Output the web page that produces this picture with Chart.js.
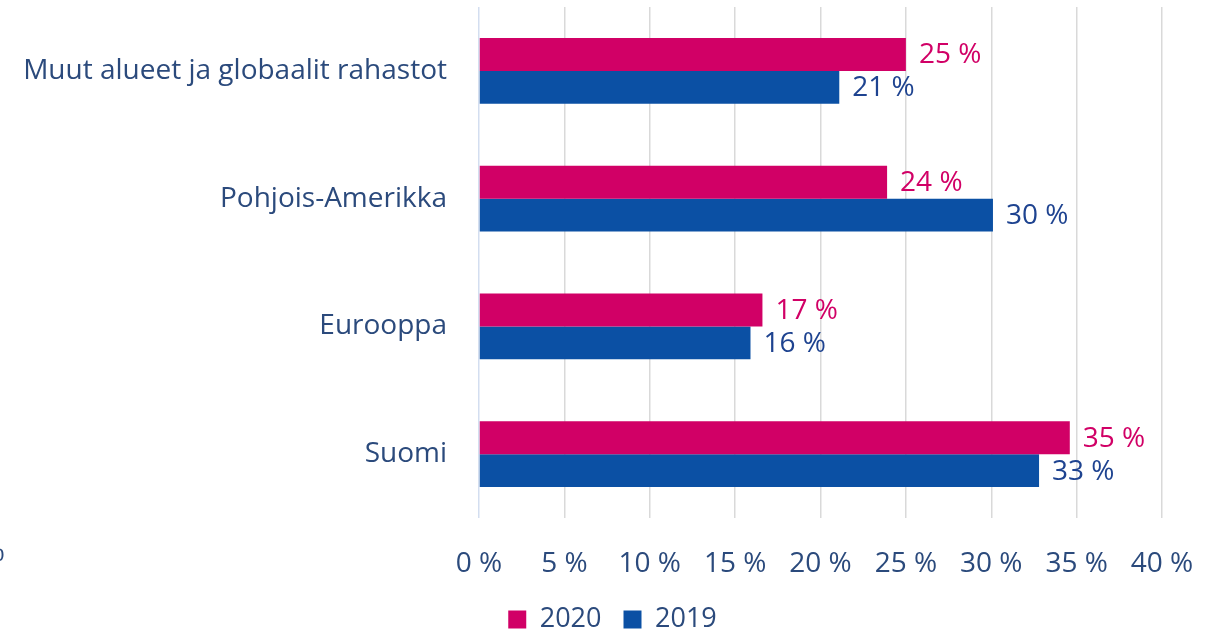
<!DOCTYPE html>
<html>
<head>
<meta charset="utf-8">
<script src="https://cdn.jsdelivr.net/npm/chart.js@4"></script>
<style>
  html, body { margin: 0; padding: 0; background: #fff; }
  #wrap { width: 1225px; height: 633px; position: relative; }
</style>
</head>
<body>
<div id="wrap"><canvas id="chart"></canvas></div>
<script>
// Regions (top to bottom)
const categories = ['Muut alueet ja globaalit rahastot', 'Pohjois-Amerikka', 'Eurooppa', 'Suomi'];

// Share of holdings, % (bar lengths)
const values2020 = [25.0, 23.9, 16.6, 34.6];
const values2019 = [21.1, 30.1, 15.9, 32.8];

// Printed labels
const labels2020 = ['25 %', '24 %', '17 %', '35 %'];
const labels2019 = ['21 %', '30 %', '16 %', '33 %'];

const xTicks = [0, 5, 10, 15, 20, 25, 30, 35, 40];

const PINK = '#D10066';
const BLUE = '#0B50A4';
const TEXT = '#2B4A7C';
const FONT = '"Open Sans", "Noto Sans", sans-serif';

// value labels at the end of each bar
const valueLabels = {
    id: 'valueLabels',
    afterDatasetsDraw(chart) {
        const ctx = chart.ctx;
        ctx.save();
        ctx.font = '28px ' + FONT;
        ctx.textBaseline = 'middle';
        ctx.textAlign = 'left';
        const sets = [[labels2020, PINK], [labels2019, '#1E4390']];
        sets.forEach(function(s, di) {
            chart.getDatasetMeta(di).data.forEach(function(bar, i) {
                ctx.fillStyle = s[1];
                ctx.fillText(s[0][i], bar.x + 13, bar.y + 1);
            });
        });
        // cropped fragment at the left edge
        ctx.fillStyle = TEXT;
        ctx.textAlign = 'right';
        ctx.fillText('%', 5, 553);
        ctx.restore();
    }
};

new Chart(document.getElementById('chart'), {
    type: 'bar',
    data: {
        labels: categories,
        datasets: [
            { label: '2020', data: values2020, backgroundColor: PINK, borderWidth: 0 },
            { label: '2019', data: values2019, backgroundColor: BLUE, borderWidth: 0 }
        ]
    },
    options: {
        indexAxis: 'y',
        responsive: true,
        maintainAspectRatio: false,
        animation: false,
        categoryPercentage: 0.516,
        barPercentage: 1.0,
        layout: { padding: { top: 7, right: 0, bottom: -10, left: 0 } },
        plugins: {
            legend: {
                display: true,
                position: 'bottom',
                labels: {
                    color: TEXT,
                    font: { family: FONT, size: 27 },
                    boxWidth: 18,
                    boxHeight: 18,
                    padding: 22
                }
            },
            tooltip: { enabled: false }
        },
        scales: {
            x: {
                min: 0,
                max: 40,
                afterBuildTicks: function(scale) {
                    scale.ticks = xTicks.map(function(v) { return { value: v }; });
                },
                afterFit: function(scale) {
                    scale.height = 66;
                    scale.paddingRight = 63;
                },
                ticks: {
                    color: TEXT,
                    font: { family: FONT, size: 28 },
                    padding: 29,
                    maxRotation: 0,
                    callback: function(v) { return v + ' %'; }
                },
                grid: {
                    color: function(c) { return c.tick && c.tick.value === 0 ? '#D3DEF0' : '#D9D9D9'; },
                    lineWidth: 1.5,
                    drawTicks: false
                },
                border: { display: false }
            },
            y: {
                afterFit: function(scale) {
                    scale.width = 479;
                    scale.paddingTop = 0;
                    scale.paddingBottom = 0;
                },
                ticks: {
                    color: TEXT,
                    font: { family: FONT, size: 28 },
                    padding: 32
                },
                grid: { display: false, drawTicks: false },
                border: { display: false }
            }
        }
    },
    plugins: [valueLabels]
});
</script>
</body>
</html>
